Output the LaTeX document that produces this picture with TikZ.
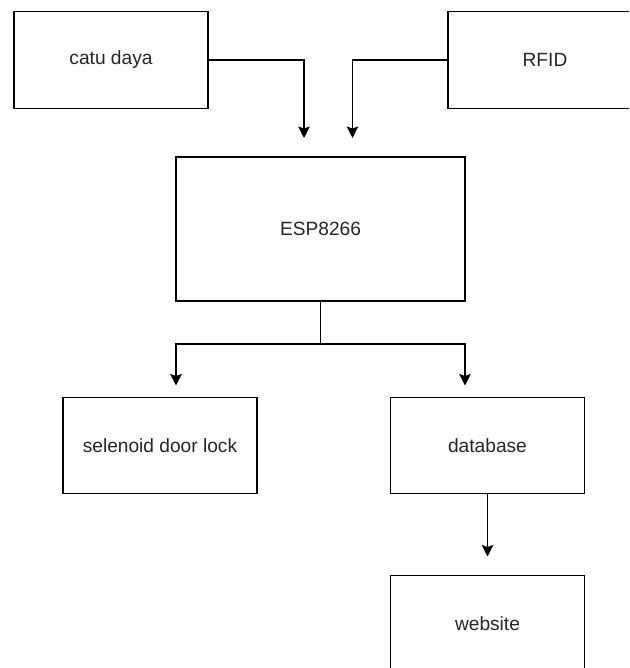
\documentclass[tikz,border=0pt]{standalone}
\usepackage{fontspec}
\setmainfont{Liberation Sans}
\usetikzlibrary{arrows.meta}
\tikzset{
  blok/.style={draw,line width=0.8pt,minimum width=3.88cm,minimum height=1.93cm,font=\fontsize{10.9}{12}\selectfont,text=black!85},
  panah/.style={draw,line width=0.8pt,-{Stealth[length=2.3mm,width=2.3mm,inset=0.4mm]}},
  garis/.style={draw,line width=0.8pt}
}
\begin{document}
\begin{tikzpicture}
              \useasboundingbox (0,0) rectangle (12.58,13.36);
              \clip (0,0) rectangle (12.58,13.36);
              %\draw[help lines](0,0) grid(12,13);
              \node[blok] (catu) at (2.22,12.16) {catu daya};
              \node[blok] (rfid) at (10.9,12.16) {RFID};
              \node[blok,minimum width=5.78cm,minimum height=2.88cm] (esp) at (6.41,8.78) {ESP8266};
              \node[blok] (lock) at (3.2,4.45) {selenoid door lock};
              \node[blok] (db) at (9.75,4.45) {database};
              \node[blok] (web) at (9.75,0.89) {website};
              \coordinate (inA) at (6.08,10.6);
              \coordinate (inB) at (7.05,10.6);
              \coordinate (cabang) at (6.41,6.48);
              \coordinate (keL) at (3.52,5.65);
              \coordinate (keR) at (9.3,5.65);
              \coordinate (keW) at (9.75,2.23);
              \path[panah] (catu.east) -| (inA);
              \path[panah] (rfid.west) -| (inB);
              \path[garis] (esp.south) -- (cabang);
              \path[panah] (cabang) -| (keL);
              \path[panah] (cabang) -| (keR);
              \path[panah] (db.south) -- (keW);
            \end{tikzpicture}
\end{document}
